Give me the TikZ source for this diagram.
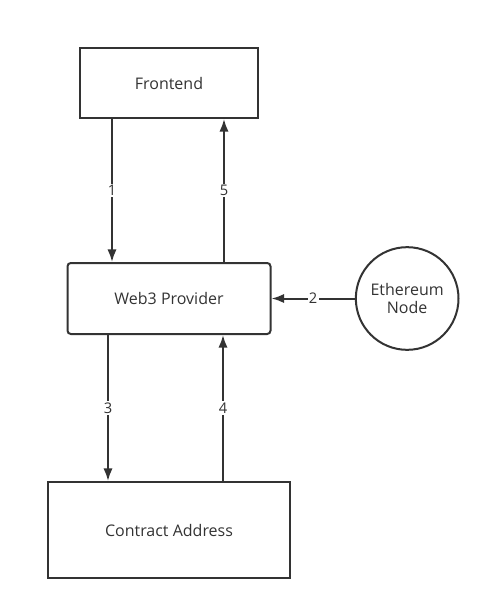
\documentclass[tikz,border=0pt]{standalone}
\usepackage{fontspec}
\setmainfont{Open Sans}
\usepackage{tikz}
\usetikzlibrary{arrows,arrows.meta,shapes,positioning}
\definecolor{ink}{HTML}{333333}

\begin{document}
\begin{tikzpicture}[x=0.75pt,y=0.75pt,node distance=108pt,>={Latex[length=9.5pt,width=7pt]}]
        \tikzstyle{block}=[rectangle,draw=ink,line width=1.5pt,text=ink,font=\fontsize{12}{14}\selectfont,inner sep=0pt]
        \tikzstyle{flow}=[->,draw=ink,line width=1.5pt]
        \tikzstyle{num}=[fill=white,text=ink,inner sep=1pt,font=\fontsize{11}{13}\selectfont]
        \useasboundingbox (0,0) rectangle (491,-611);
        \begin{scope}
        \node[block,minimum width=133.5pt,minimum height=52.5pt](fe) at (169,-83){Frontend};
        \node[block,rounded corners=2.5pt,minimum width=152.25pt,minimum height=53.25pt](w3)[below=107.25pt of fe]{Web3 Provider};
        \node[block,minimum width=181.5pt,minimum height=72pt](ca)[below=109.5pt of w3]{Contract Address};
        \node[block,circle,minimum size=77pt,align=center](eth)[right=62.5pt of w3]{Ethereum\\[-1pt]Node};
        \draw[flow] ([xshift=-42.75pt]fe.south) -- node[num,midway]{1} ([xshift=-42.75pt]w3.north);
        \draw[flow] ([xshift=41.25pt]w3.north) -- node[num,midway]{5} ([xshift=41.25pt]fe.south);
        \draw[flow] (eth) -- node[num,midway]{2} (w3);
        \draw[flow] ([xshift=-45.75pt]w3.south) -- node[num,midway]{3} ([xshift=-45.75pt]ca.north);
        \draw[flow] ([xshift=40.5pt]ca.north) -- node[num,midway]{4} ([xshift=40.5pt]w3.south);
        \end{scope}
    \end{tikzpicture}
\end{document}
